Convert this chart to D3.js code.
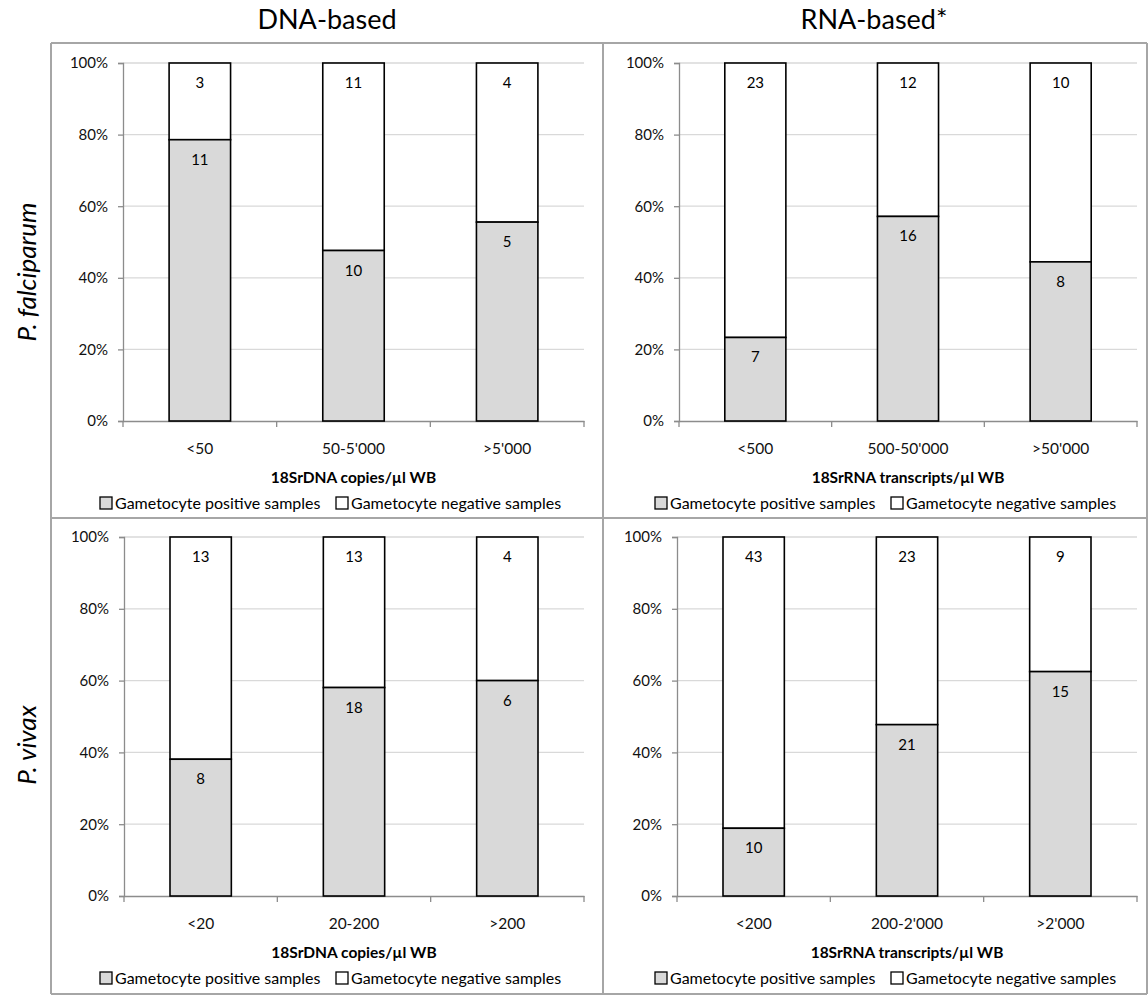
<!DOCTYPE html>
<html>
<head>
<meta charset="utf-8">
<script src="https://cdn.jsdelivr.net/npm/d3@7"></script>
<style>
  body { margin: 0; background: #fff; }
  svg { display: block; font-family: Lato, "Open Sans", sans-serif; }
</style>
</head>
<body>
<div id="chart"></div>
<script>
var pfDnaCats = ["<50", "50-5'000", ">5'000"];
var pfDnaPos = [11, 10, 5];
var pfDnaNeg = [3, 11, 4];

var pfRnaCats = ["<500", "500-50'000", ">50'000"];
var pfRnaPos = [7, 16, 8];
var pfRnaNeg = [23, 12, 10];

var pvDnaCats = ["<20", "20-200", ">200"];
var pvDnaPos = [8, 18, 6];
var pvDnaNeg = [13, 13, 4];

var pvRnaCats = ["<200", "200-2'000", ">2'000"];
var pvRnaPos = [10, 21, 15];
var pvRnaNeg = [43, 23, 9];

var yTicks = [0, 20, 40, 60, 80, 100];
var seriesNames = ["Gametocyte positive samples", "Gametocyte negative samples"];
var colTitles = ["DNA-based", "RNA-based*"];
var rowTitles = ["P. falciparum", "P. vivax"];
var dnaAxisTitle = "18SrDNA copies/\u00b5l WB";
var rnaAxisTitle = "18SrRNA transcripts/\u00b5l WB";

var width = 1148, height = 995;
var posFill = "#d9d9d9";

var svg = d3.select("#chart").append("svg")
    .attr("width", width)
    .attr("height", height);

// frame grid
var frameColor = "#a6a6a6";
var fx = [51, 603, 1147], fy = [43, 518, 994];
fy.forEach(function (y) {
    svg.append("line").attr("x1", fx[0]).attr("x2", fx[2]).attr("y1", y).attr("y2", y)
        .attr("stroke", frameColor).attr("stroke-width", 2);
});
fx.forEach(function (x) {
    svg.append("line").attr("x1", x).attr("x2", x).attr("y1", fy[0]).attr("y2", fy[2])
        .attr("stroke", frameColor).attr("stroke-width", 2);
});

// column titles
svg.append("text").attr("x", 327).attr("y", 29).attr("text-anchor", "middle")
    .style("font-size", "27px").text(colTitles[0]);
svg.append("text").attr("x", 874).attr("y", 29).attr("text-anchor", "middle")
    .style("font-size", "27px").text(colTitles[1]);

// row titles
[[27, 272], [27, 745]].forEach(function (p, i) {
    svg.append("text")
        .attr("transform", "translate(" + (p[0] + 9) + "," + p[1] + ") rotate(-90)")
        .attr("text-anchor", "middle")
        .style("font-size", "26px")
        .style("font-style", "italic")
        .text(rowTitles[i]);
});

function panel(left, right, top, bottom, legendCx, cats, pos, neg, axisTitle) {
    var g = svg.append("g");
    var pct = pos.map(function (d, i) { return d / (d + neg[i]) * 100; });

    var x = d3.scaleBand().domain(cats).range([left, right]).paddingInner(0.6).paddingOuter(0.3);
    var xb = d3.scaleBand().domain(cats).range([left, right]);
    var y = d3.scaleLinear().domain([0, 100]).range([bottom, top]);

    // gridlines
    g.selectAll("line.grid").data(yTicks.slice(1)).enter().append("line")
        .attr("x1", left).attr("x2", right)
        .attr("y1", function (d) { return y(d); }).attr("y2", function (d) { return y(d); })
        .attr("stroke", "#d9d9d9").attr("stroke-width", 1.3);

    // y axis
    var yAxis = d3.axisLeft(y).tickValues(yTicks).tickSize(5).tickPadding(10)
        .tickFormat(function (d) { return d + "%"; });
    var ya = g.append("g").attr("transform", "translate(" + left + ",0)").call(yAxis);
    ya.select(".domain").attr("stroke", "#8c8c8c").attr("stroke-width", 1.3);
    ya.selectAll(".tick line").attr("stroke", "#8c8c8c").attr("stroke-width", 1.3);
    ya.selectAll(".tick text").style("font-size", "15px").style("font-family", "Lato").attr("fill", "#111");

    // x axis
    var xa = g.append("g").attr("transform", "translate(0," + bottom + ")")
        .call(d3.axisBottom(xb).tickSize(0).tickPadding(22));
    xa.select(".domain").attr("stroke", "#8c8c8c").attr("stroke-width", 1.3);
    xa.selectAll(".tick text").style("font-size", "15.5px").style("font-family", "Lato").attr("fill", "#111");
    // boundary tick marks
    var bounds = cats.map(function (c) { return xb(c); }).concat([right]);
    g.selectAll("line.xt").data(bounds).enter().append("line")
        .attr("x1", function (d) { return d; }).attr("x2", function (d) { return d; })
        .attr("y1", bottom).attr("y2", bottom + 6)
        .attr("stroke", "#8c8c8c").attr("stroke-width", 1.3);

    // negative segment (top)
    g.selectAll("rect.neg").data(cats).enter().append("rect")
        .attr("x", function (d) { return x(d); })
        .attr("width", x.bandwidth())
        .attr("y", y(100))
        .attr("height", function (d, i) { return y(pct[i]) - y(100); })
        .attr("fill", "#fff").attr("stroke", "#000").attr("stroke-width", 1.6);
    // positive segment
    g.selectAll("rect.pos").data(cats).enter().append("rect")
        .attr("x", function (d) { return x(d); })
        .attr("width", x.bandwidth())
        .attr("y", function (d, i) { return y(pct[i]); })
        .attr("height", function (d, i) { return y(0) - y(pct[i]); })
        .attr("fill", posFill).attr("stroke", "#000").attr("stroke-width", 1.6);

    // labels
    g.selectAll("text.negl").data(cats).enter().append("text")
        .attr("x", function (d) { return x(d) + x.bandwidth() / 2; })
        .attr("y", y(100) + 25)
        .attr("text-anchor", "middle").style("font-size", "15px")
        .text(function (d, i) { return neg[i]; });
    g.selectAll("text.posl").data(cats).enter().append("text")
        .attr("x", function (d) { return x(d) + x.bandwidth() / 2; })
        .attr("y", function (d, i) { return y(pct[i]) + 25; })
        .attr("text-anchor", "middle").style("font-size", "15px")
        .text(function (d, i) { return pos[i]; });

    // axis title
    var cx = (left + right) / 2;
    g.append("text").attr("x", cx).attr("y", bottom + 62)
        .attr("text-anchor", "middle").style("font-size", "15.5px").style("font-weight", "bold")
        .text(axisTitle);

    // legend
    var lg = g.append("g").attr("transform", "translate(" + (legendCx - 228) + "," + (bottom + 88) + ")");
    var lx = [0, 236];
    seriesNames.forEach(function (s, i) {
        lg.append("rect").attr("x", lx[i]).attr("y", -12).attr("width", 12).attr("height", 12)
            .attr("fill", i === 0 ? posFill : "#fff").attr("stroke", "#000").attr("stroke-width", 1.3);
        lg.append("text").attr("x", lx[i] + 15).attr("y", 0).style("font-size", "16px").text(s);
    });
}

panel(123, 584, 63, 421, 328, pfDnaCats, pfDnaPos, pfDnaNeg, dnaAxisTitle);
panel(679, 1137, 63, 421, 883, pfRnaCats, pfRnaPos, pfRnaNeg, rnaAxisTitle);
panel(124, 584, 537, 896, 328, pvDnaCats, pvDnaPos, pvDnaNeg, dnaAxisTitle);
panel(677, 1137, 537, 896, 883, pvRnaCats, pvRnaPos, pvRnaNeg, rnaAxisTitle);
</script>
</body>
</html>
